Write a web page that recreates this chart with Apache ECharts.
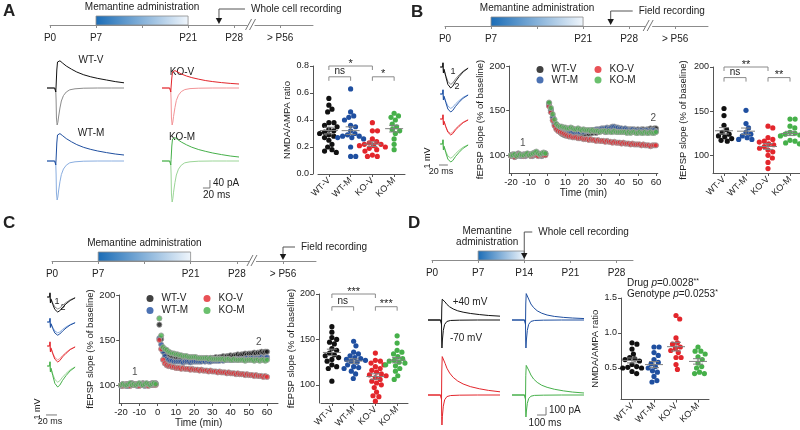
<!DOCTYPE html>
<html>
<head>
<meta charset="utf-8">
<script src="https://cdn.jsdelivr.net/npm/echarts@6/dist/echarts.min.js"></script>
<style>
  html, body { margin: 0; background: #fff; }
  #chart { width: 800px; height: 430px; }
</style>
</head>
<body>
<div id="chart"></div>
<script>
// ---- data ----
const groups = ['WT-V', 'WT-M', 'KO-V', 'KO-M'];

// timelines (postnatal days)
const timelineDays = [0, 7, 14, 21, 28, 35];
const timelineLabels = ['P0', 'P7', '', 'P21', 'P28', '> P56'];
const timelineDaysD = [0, 7, 14, 21, 28];
const timelineLabelsD = ['P0', 'P7', 'P14', 'P21', 'P28'];

// A: NMDA/AMPA ratio
const aRatioWTV = [0.56, 0.51, 0.48, 0.46, 0.38, 0.38, 0.36, 0.35, 0.33, 0.32, 0.31, 0.30, 0.29, 0.28, 0.27, 0.25, 0.22, 0.20, 0.18, 0.17, 0.16];
const aRatioWTM = [0.63, 0.46, 0.43, 0.42, 0.40, 0.36, 0.35, 0.32, 0.30, 0.29, 0.28, 0.28, 0.27, 0.27, 0.26, 0.20, 0.13, 0.13];
const aRatioKOV = [0.38, 0.32, 0.32, 0.26, 0.24, 0.23, 0.22, 0.22, 0.21, 0.21, 0.20, 0.19, 0.18, 0.17, 0.14, 0.13, 0.13];
const aRatioKOM = [0.45, 0.43, 0.42, 0.40, 0.37, 0.35, 0.33, 0.32, 0.30, 0.26, 0.22, 0.18];
const aSignif = [[0, 2, 0.80, '*'], [0, 1, 0.72, 'ns'], [2, 3, 0.72, '*']];

// B: fEPSP slope after LTP (P21-28)
const bSlopeWTV = [153, 145, 134, 129, 126, 124, 122, 121, 119, 117, 116];
const bSlopeWTM = [151, 136, 131, 126, 124, 122, 120, 118, 118];
const bSlopeKOV = [133, 131, 120, 118, 116, 115, 113, 112, 110, 108, 106, 104, 100, 97, 92, 85];
const bSlopeKOM = [141, 141, 133, 131, 126, 125, 124, 123, 122, 121, 117, 116, 114, 113];
const bSignif = [[0, 2, 200, '**'], [0, 1, 188, 'ns'], [2, 3, 188, '**']];

// C: fEPSP slope after LTP (> P56)
const cSlopeWTV = [164, 158, 152, 150, 147, 145, 140, 138, 135, 133, 132, 130, 128, 126, 122, 120, 118, 104];
const cSlopeWTM = [148, 143, 136, 134, 132, 130, 129, 128, 127, 126, 125, 122, 120, 119, 118, 115, 112, 107];
const cSlopeKOV = [135, 127, 126, 124, 122, 120, 118, 116, 114, 112, 111, 110, 108, 106, 104, 102, 100, 97, 92, 88, 87, 82];
const cSlopeKOM = [154, 146, 138, 136, 134, 131, 129, 127, 126, 125, 124, 122, 121, 118, 115, 110, 106];
const cSignif = [[0, 2, 200, '***'], [0, 1, 186, 'ns'], [2, 3, 186, '***']];

// D: NMDA/AMPA ratio at P14
const dRatioWTV = [0.86, 0.84, 0.77, 0.70, 0.65, 0.63, 0.62, 0.60, 0.55, 0.52, 0.51, 0.50, 0.50, 0.45, 0.42];
const dRatioWTM = [0.80, 0.80, 0.72, 0.68, 0.62, 0.58, 0.56, 0.52, 0.50, 0.46, 0.44, 0.38, 0.32, 0.30];
const dRatioKOV = [1.25, 1.20, 0.93, 0.86, 0.84, 0.80, 0.78, 0.75, 0.72, 0.65, 0.65, 0.55, 0.48];
const dRatioKOM = [0.80, 0.74, 0.74, 0.70, 0.66, 0.62, 0.57, 0.52, 0.50, 0.44, 0.42, 0.42];

// LTP time courses: 20 baseline minutes (-20..-1) then minutes 1..60
const courseTimes = Array.from({length: 20}, (_, i) => i - 20)
  .concat(Array.from({length: 60}, (_, i) => i + 1));
const bCourseWTV = [100, 101, 99, 100, 102, 100, 99, 101, 100, 100, 101, 99, 100, 102, 101, 100, 100, 99, 101, 102,
  158, 151, 143, 136, 131, 128, 126, 124, 123, 122, 122, 121, 122, 123, 122, 123, 122, 123, 124, 124,
  124, 125, 124, 125, 125, 126, 125, 126, 127, 127, 127, 126, 127, 128, 127, 128, 128, 129, 128, 128,
  129, 128, 129, 128, 129, 129, 128, 129, 128, 129, 128, 129, 129, 128, 129, 129, 130, 129, 130, 130];
const bCourseWTM = [99, 100, 98, 100, 101, 99, 100, 100, 99, 101, 100, 100, 99, 101, 100, 102, 101, 100, 100, 101,
  156, 150, 142, 135, 131, 129, 127, 126, 125, 125, 124, 125, 125, 126, 125, 126, 126, 126, 127, 126,
  127, 127, 127, 128, 128, 128, 129, 129, 129, 130, 130, 130, 131, 130, 131, 132, 132, 131, 131, 130,
  130, 129, 130, 129, 128, 128, 129, 128, 128, 127, 128, 128, 127, 128, 128, 127, 128, 128, 128, 127];
const bCourseKOV = [99, 100, 98, 99, 101, 100, 100, 99, 100, 101, 100, 99, 100, 101, 100, 99, 100, 101, 100, 100,
  155, 148, 139, 133, 129, 127, 126, 125, 124, 123, 122, 121, 121, 120, 120, 120, 119, 119, 119, 118,
  118, 118, 117, 118, 117, 117, 116, 117, 116, 116, 116, 115, 116, 115, 115, 114, 115, 114, 114, 114,
  113, 114, 113, 113, 113, 112, 113, 112, 112, 112, 112, 111, 112, 111, 111, 111, 110, 111, 111, 111];
const bCourseKOM = [100, 100, 101, 99, 100, 101, 100, 100, 101, 102, 100, 101, 102, 103, 104, 102, 101, 102, 103, 102,
  159, 153, 146, 140, 135, 133, 132, 132, 131, 131, 130, 130, 131, 130, 129, 129, 130, 129, 128, 129,
  128, 128, 128, 127, 128, 127, 127, 127, 126, 127, 127, 127, 126, 127, 126, 126, 127, 126, 126, 126,
  126, 126, 126, 125, 126, 125, 126, 126, 125, 125, 126, 125, 125, 126, 125, 125, 126, 125, 125, 126];
const cCourseWTV = [100, 101, 100, 99, 101, 100, 102, 101, 100, 101, 100, 101, 102, 100, 101, 100, 101, 102, 101, 102,
  167, 151, 140, 135, 132, 131, 130, 130, 129, 129, 129, 128, 129, 128, 128, 128, 129, 128, 128, 129,
  128, 129, 129, 128, 129, 129, 130, 129, 130, 130, 130, 131, 130, 131, 131, 132, 131, 132, 132, 133,
  132, 133, 133, 134, 133, 134, 134, 135, 134, 135, 135, 135, 136, 135, 136, 136, 137, 136, 137, 137];
const cCourseWTM = [99, 100, 100, 101, 99, 100, 100, 101, 100, 99, 100, 101, 100, 99, 100, 101, 100, 100, 101, 101,
  152, 145, 137, 132, 129, 128, 127, 127, 126, 126, 126, 126, 126, 125, 126, 126, 126, 125, 126, 126,
  126, 126, 126, 126, 127, 126, 127, 126, 126, 127, 127, 127, 127, 127, 128, 127, 128, 128, 128, 128,
  128, 128, 129, 128, 129, 129, 129, 129, 130, 129, 130, 130, 129, 130, 130, 130, 131, 130, 130, 131];
const cCourseKOV = [100, 99, 100, 101, 100, 99, 100, 100, 101, 100, 99, 100, 101, 100, 100, 99, 100, 101, 100, 100,
  150, 140, 128, 124, 122, 121, 121, 120, 120, 119, 119, 119, 118, 119, 118, 118, 118, 117, 118, 117,
  117, 117, 116, 117, 116, 116, 116, 115, 116, 115, 115, 115, 114, 115, 114, 114, 114, 113, 114, 113,
  113, 113, 112, 113, 112, 112, 112, 111, 112, 111, 111, 111, 110, 111, 110, 110, 110, 109, 110, 109];
const cCourseKOM = [100, 101, 100, 100, 101, 102, 100, 101, 100, 101, 102, 101, 100, 101, 102, 101, 100, 101, 102, 101,
  174, 155, 142, 140, 139, 137, 136, 135, 135, 134, 134, 133, 133, 132, 132, 132, 131, 131, 131, 131,
  131, 130, 130, 130, 130, 130, 130, 129, 130, 129, 129, 129, 129, 129, 129, 129, 128, 129, 129, 128,
  128, 129, 128, 128, 128, 128, 128, 127, 128, 128, 128, 128, 127, 128, 128, 127, 128, 128, 127, 128];
const bCourseMarks = [[-13.5, 113, '1'], [58.5, 141, '2']];
const cCourseMarks = [[-12.5, 114, '1'], [55.5, 147, '2']];

// example EPSC traces (ms, pA)
const aUpTimes = [-25, -3, 0, 1, 3, 5, 8, 12, 20, 30, 45, 60, 80, 100, 120, 145, 170, 195];
const aDownTimes = [-25, -3, 0, 1, 2, 4, 6, 8, 12, 16, 22, 30, 40, 55, 80, 120, 160, 195];
const aUpWTV = [0, 0, -20, 10, 90, 130, 140, 136, 124, 110, 94, 80, 66, 56, 48, 40, 32, 26];
const aDownWTV = [0, 0, -15, -60, -150, -185, -172, -145, -100, -65, -38, -20, -9, -4, -1, 0, 0, 0];
const aUpKOV = [0, 0, -20, 5, 50, 80, 90, 87, 80, 70, 60, 52, 44, 37, 32, 27, 23, 20];
const aDownKOV = [0, 0, -15, -60, -150, -185, -170, -142, -98, -62, -36, -18, -8, -3, -1, 0, 0, 0];
const aUpWTM = [0, 0, -20, 10, 90, 130, 140, 137, 126, 112, 96, 82, 68, 58, 50, 42, 35, 30];
const aDownWTM = [0, 0, -15, -65, -160, -195, -180, -150, -104, -68, -40, -21, -9, -4, -1, 0, 0, 0];
const aUpKOM = [0, 0, -20, 8, 75, 110, 120, 117, 107, 95, 81, 69, 57, 48, 40, 32, 25, 20];
const aDownKOM = [0, 0, -15, -65, -165, -205, -188, -156, -108, -70, -41, -21, -9, -4, -1, 0, 0, 0];
const dUpTimes = [-150, -10, 0, 3, 8, 15, 25, 40, 60, 90, 130, 180, 240, 320, 420, 520, 650];
const dDownTimes = [-150, -10, 0, 2, 5, 10, 20, 35, 60, 100, 200, 400, 650];
const dUpWTV = [0, 0, -60, 150, 260, 275, 255, 225, 195, 165, 138, 115, 98, 82, 68, 57, 48];
const dDownWTV = [0, 0, -40, -250, -350, -250, -130, -55, -18, -6, -2, 0, 0];
const dUpWTM = [0, 0, -60, 200, 330, 350, 305, 250, 200, 155, 115, 85, 62, 45, 33, 25, 18];
const dDownWTM = [0, 0, -40, -250, -350, -250, -130, -55, -18, -6, -2, 0, 0];
const dUpKOV = [0, 0, -60, 300, 480, 500, 455, 395, 335, 275, 220, 175, 138, 105, 78, 58, 40];
const dDownKOV = [0, 0, -40, -270, -375, -265, -140, -60, -20, -7, -2, 0, 0];
const dUpKOM = [0, 0, -60, 240, 370, 390, 350, 300, 250, 200, 158, 122, 96, 72, 52, 37, 25];
const dDownKOM = [0, 0, -40, -200, -275, -200, -105, -45, -15, -5, -2, 0, 0];

// example fEPSP traces (ms, mV): 1 = baseline, 2 = after LTP
const fTimes = [-4, -0.5, 0, 0.6, 1.5, 4, 7, 11, 14, 18, 23, 29, 36];
const bF1WTV = [0, 0, 0.35, -0.5, -0.2, -0.7, -1.2, -1.45, -1.33, -1.0, -0.66, -0.33, -0.08];
const bF2WTV = [0, 0, 0.35, -0.5, -0.2, -0.8, -1.45, -1.75, -1.6, -1.2, -0.8, -0.4, -0.1];
const bF1WTM = [0, 0, 0.35, -0.5, -0.2, -0.6, -1.0, -1.2, -1.1, -0.82, -0.55, -0.27, -0.07];
const bF2WTM = [0, 0, 0.35, -0.5, -0.2, -0.7, -1.25, -1.5, -1.37, -1.03, -0.69, -0.34, -0.09];
const bF1KOV = [0, 0, 0.35, -0.5, -0.2, -0.62, -1.02, -1.2, -1.1, -0.8, -0.52, -0.25, -0.06];
const bF2KOV = [0, 0, 0.35, -0.5, -0.2, -0.65, -1.1, -1.33, -1.22, -0.91, -0.61, -0.3, -0.08];
const bF1KOM = [0, 0, 0.35, -0.5, -0.2, -0.6, -1.0, -1.18, -1.08, -0.8, -0.53, -0.26, -0.07];
const bF2KOM = [0, 0, 0.35, -0.5, -0.2, -0.72, -1.26, -1.5, -1.38, -1.04, -0.7, -0.35, -0.09];
const cF1WTV = [0, 0, 0.3, -0.45, -0.15, -0.5, -0.83, -1.0, -0.92, -0.69, -0.46, -0.23, -0.06];
const cF2WTV = [0, 0, 0.35, -0.5, -0.2, -0.62, -1.04, -1.25, -1.15, -0.86, -0.57, -0.29, -0.07];
const cF1WTM = [0, 0, 0.3, -0.45, -0.15, -0.45, -0.75, -0.9, -0.83, -0.62, -0.41, -0.21, -0.05];
const cF2WTM = [0, 0, 0.3, -0.45, -0.15, -0.55, -0.92, -1.1, -1.0, -0.76, -0.5, -0.25, -0.06];
const cF1KOV = [0, 0, 0.3, -0.45, -0.15, -0.57, -0.96, -1.15, -1.06, -0.79, -0.53, -0.26, -0.07];
const cF2KOV = [0, 0, 0.35, -0.5, -0.2, -0.65, -1.1, -1.33, -1.22, -0.91, -0.61, -0.3, -0.08];
const cF1KOM = [0, 0, 0.35, -0.5, -0.2, -0.67, -1.12, -1.35, -1.24, -0.93, -0.62, -0.31, -0.08];
const cF2KOM = [0, 0, 0.35, -0.5, -0.2, -0.8, -1.45, -1.75, -1.6, -1.2, -0.8, -0.4, -0.1];

// ---- styles ----
const FONT = '"Liberation Sans", Arial, sans-serif';
const INK = '#222';
const AXIS = '#555';
const groupColor = {'WT-V': '#111111', 'WT-M': '#1f4fa0', 'KO-V': '#e3262c', 'KO-M': '#46b04a'};
const groupLight = {'WT-V': '#8c8c8c', 'WT-M': '#8aaee0', 'KO-V': '#f39497', 'KO-M': '#9bd597'};

const grid = [];
const xAxis = [];
const yAxis = [];
const series = [];
const legend = [];
const graphic = [];

const hiddenAxis = (min, max) => ({type: 'value', min, max, show: false});
const axisLine = {show: true, onZero: false, lineStyle: {color: AXIS, width: 1}};
const labelStyle = (size) => ({fontSize: size, fontFamily: FONT, color: INK});

const addGrid = (rect, x, y) => {
  grid.push({...rect, containLabel: false, outerBoundsMode: 'none'});
  const index = grid.length - 1;
  xAxis.push({gridIndex: index, ...x});
  yAxis.push({gridIndex: index, ...y});
  return index;
};

const onGrid = (index, item) => series.push({
  xAxisIndex: index, yAxisIndex: index, silent: true, animation: false, ...item,
});

const text = (x, y, value, opts = {}) => {
  const align = opts.align || 'center';
  const valign = opts.valign || 'middle';
  graphic.push({
    type: 'text', x, y, silent: true, rotation: opts.rotation || 0,
    style: {
      text: value, fontFamily: FONT, fontSize: opts.size || 10, fontWeight: opts.weight || 'normal',
      fill: INK, align, textAlign: align, verticalAlign: valign, textVerticalAlign: valign,
      rich: opts.rich,
    },
  });
};

const addTraces = (rect, xRange, yRange, traces) => {
  const index = addGrid(rect, hiddenAxis(...xRange), hiddenAxis(...yRange));
  traces.forEach(([times, values, color]) => onGrid(index, {
    type: 'line', data: times.map((t, k) => [t, values[k]]), symbol: 'none', clip: false,
    lineStyle: {color, width: 1},
  }));
  return index;
};

// simple beeswarm: horizontal offsets (px) so dots of spacing d stay apart
const swarm = (ys, d) => {
  const placed = [];
  const out = new Array(ys.length);
  ys.map((y, i) => i).sort((a, b) => ys[a] - ys[b]).forEach((i) => {
    const y = ys[i];
    const blocked = [];
    placed.forEach((p) => {
      const dy = Math.abs(p.y - y);
      if (dy < d) {
        const w = Math.sqrt(d * d - dy * dy);
        blocked.push([p.x - w, p.x + w]);
      }
    });
    const candidates = [0];
    blocked.forEach(([a, b]) => candidates.push(a, b));
    candidates.sort((a, b) => Math.abs(a) - Math.abs(b) || b - a);
    const x = candidates.find((c) => blocked.every(([a, b]) => c <= a + 1e-6 || c >= b - 1e-6));
    out[i] = x;
    placed.push({x, y});
  });
  return out;
};

const addDotPlot = (rect, cfg, values, signif) => {
  const index = addGrid(rect, {
    type: 'category', data: groups, axisLine,
    axisTick: {show: true, alignWithLabel: true, length: 3, lineStyle: {color: AXIS}},
    axisLabel: {...labelStyle(9), rotate: 45, margin: 5, interval: 0},
    splitLine: {show: false},
  }, {
    type: 'value', min: cfg.min, max: cfg.max, offset: cfg.offset || 0,
    name: cfg.name, nameLocation: 'middle', nameGap: cfg.nameGap, nameTextStyle: labelStyle(9.5),
    axisLine,
    axisTick: {show: true, length: 3, lineStyle: {color: AXIS}, customValues: cfg.ticks},
    axisLabel: {
      ...labelStyle(9), margin: 4, customValues: cfg.ticks, hideOverlap: false,
      formatter: (v) => Number(v).toFixed(cfg.decimals),
    },
    splitLine: {show: false},
  });
  values.forEach((vals, gi) => {
    let offsets = null;
    onGrid(index, {
      type: 'custom', data: vals.map((v) => [gi, v]), encode: {x: 0, y: 1}, z: 3,
      renderItem: (params, api) => {
        if (params.dataIndex === 0 || !offsets) {
          offsets = swarm(vals.map((v) => api.coord([gi, v])[1]), 5.1);
        }
        const [cx, cy] = api.coord([gi, api.value(1)]);
        return {
          type: 'circle', shape: {cx: cx + offsets[params.dataIndex], cy, r: 2.6},
          style: {fill: groupColor[groups[gi]]},
        };
      },
    });
  });
  const stats = values.map((vals, gi) => {
    const n = vals.length;
    const mean = vals.reduce((s, v) => s + v, 0) / n;
    const sd = Math.sqrt(vals.reduce((s, v) => s + (v - mean) ** 2, 0) / (n - 1));
    return [gi, mean, sd / Math.sqrt(n)];
  });
  onGrid(index, {
    type: 'custom', data: stats, encode: {x: 0, y: 1}, z: 4,
    renderItem: (params, api) => {
      const gi = api.value(0);
      const m = api.value(1);
      const e = api.value(2);
      const [x, ym] = api.coord([gi, m]);
      const yl = api.coord([gi, m - e])[1];
      const yh = api.coord([gi, m + e])[1];
      const s = {stroke: '#808080', lineWidth: 1};
      return {type: 'group', children: [
        {type: 'line', shape: {x1: x - 9, y1: ym, x2: x + 9, y2: ym}, style: s},
        {type: 'line', shape: {x1: x - 5, y1: yl, x2: x + 5, y2: yl}, style: s},
        {type: 'line', shape: {x1: x - 5, y1: yh, x2: x + 5, y2: yh}, style: s},
        {type: 'line', shape: {x1: x, y1: yl, x2: x, y2: yh}, style: s},
      ]};
    },
  });
  if (signif) {
    onGrid(index, {
      type: 'custom', data: signif.map((b) => [b[0], b[2], b[1]]), encode: {x: [0, 2], y: 1}, z: 5,
      renderItem: (params, api) => {
        const b = signif[params.dataIndex];
        const p = api.coord([b[0], b[2]]);
        const q = api.coord([b[1], b[2]]);
        const star = b[3] !== 'ns';
        return {type: 'group', children: [
          {type: 'polyline', shape: {points: [[p[0], p[1] + 4], [p[0], p[1]], [q[0], q[1]], [q[0], q[1] + 4]]},
            style: {stroke: '#8a8a8a', lineWidth: 1, fill: null}},
          {type: 'text', x: (p[0] + q[0]) / 2, y: star ? p[1] + 3 : p[1] - 0.5,
            style: {text: b[3], fontFamily: FONT, fontSize: star ? 11 : 10, fill: INK,
              align: 'center', textAlign: 'center', verticalAlign: 'bottom', textVerticalAlign: 'bottom'}},
        ]};
      },
    });
  }
  return index;
};

const addCourse = (rect, cfg, courses, marks) => {
  const index = addGrid(rect, {
    type: 'value', min: cfg.xMin, max: cfg.xMax, name: 'Time (min)', nameLocation: 'middle',
    nameGap: cfg.xNameGap, nameTextStyle: labelStyle(10), axisLine,
    axisTick: {show: true, length: 3, lineStyle: {color: AXIS}, customValues: cfg.xTicks},
    axisLabel: {...labelStyle(9.5), margin: 4, customValues: cfg.xTicks, hideOverlap: false},
    splitLine: {show: false},
  }, {
    type: 'value', min: 80, max: 200, name: 'fEPSP slope (% of baseline)', nameLocation: 'middle',
    nameGap: cfg.yNameGap, nameTextStyle: labelStyle(9.5), axisLine,
    axisTick: {show: true, length: 3, lineStyle: {color: AXIS}, customValues: [100, 150, 200]},
    axisLabel: {...labelStyle(9.5), margin: 4, customValues: [100, 150, 200], hideOverlap: false},
    splitLine: {show: false},
  });
  courses.forEach((values, gi) => onGrid(index, {
    type: 'scatter', name: groups[gi], symbolSize: 5.2,
    data: courseTimes.map((t, k) => [t, values[k]]),
    itemStyle: {color: groupColor[groups[gi]], borderColor: '#a0a0a0', borderWidth: 1},
  }));
  onGrid(index, {
    type: 'scatter', symbolSize: 1, data: marks.map((m) => ({value: [m[0], m[1]], name: m[2]})),
    itemStyle: {color: 'transparent'},
    label: {show: true, position: 'inside', formatter: '{b}', ...labelStyle(10)},
  });
  return index;
};

const addLegend = (name, left, top) => legend.push({
  data: [{name, icon: 'circle'}], left, top, padding: 0, itemWidth: 7, itemHeight: 7, itemGap: 0,
  selectedMode: false, itemStyle: {borderWidth: 0},
  textStyle: {...labelStyle(10), padding: [0, 0, 0, 3]},
});

const addTimeline = (cfg) => {
  const index = addGrid({left: cfg.left, top: cfg.top, width: cfg.width, height: 9}, {
    type: 'value', min: 0, max: cfg.maxDay,
    axisLine: {show: true, onZero: false, lineStyle: {color: '#8c8c8c', width: 1}},
    axisTick: {show: true, length: 3, lineStyle: {color: '#8c8c8c'}, customValues: cfg.days},
    axisLabel: {
      ...labelStyle(10), margin: 8, customValues: cfg.days, hideOverlap: false,
      formatter: (v) => cfg.labels[cfg.days.indexOf(v)],
    },
    splitLine: {show: false},
  }, hiddenAxis(0, 1));
  onGrid(index, {
    type: 'custom', data: [cfg.dose], encode: {x: [0, 1]}, z: 2,
    renderItem: (params, api) => {
      const a = api.coord([api.value(0), 1]);
      const b = api.coord([api.value(1), 0]);
      return {type: 'group', children: [
        {type: 'rect', shape: {x: a[0], y: a[1], width: b[0] - a[0], height: b[1] - a[1]},
          style: {
            fill: new echarts.graphic.LinearGradient(0, 0, 1, 0, [
              {offset: 0, color: '#1a6cb6'}, {offset: 1, color: '#f0f6fc'}]),
            stroke: '#8c8c8c', lineWidth: 0.8,
          }},
        {type: 'text', x: (a[0] + b[0]) / 2 + (cfg.doseDx || 0), y: a[1] - 3,
          style: {text: cfg.doseLabel, fontFamily: FONT, fontSize: 10, fill: INK, lineHeight: 11,
            align: 'center', textAlign: 'center', verticalAlign: 'bottom', textVerticalAlign: 'bottom'}},
      ]};
    },
  });
  onGrid(index, {
    type: 'custom', data: [[cfg.recDay, 0]], encode: {x: 0, y: 1}, z: 3,
    renderItem: (params, api) => {
      const [x, y] = api.coord([api.value(0), 0]);
      const top = y - cfg.rise;
      return {type: 'group', children: [
        {type: 'polyline', shape: {points: [[x + cfg.hLen, top], [x, top], [x, y - 6]]},
          style: {stroke: '#555', lineWidth: 1, fill: null}},
        {type: 'polygon', shape: {points: [[x - 3.2, y - 7], [x + 3.2, y - 7], [x, y - 1]]},
          style: {fill: '#1a1a1a'}},
        {type: 'text', x: x + cfg.hLen + 6, y: top,
          style: {text: cfg.recLabel, fontFamily: FONT, fontSize: 10, fill: INK,
            align: 'left', textAlign: 'left', verticalAlign: 'middle', textVerticalAlign: 'middle'}},
      ]};
    },
  });
  if (cfg.breakDay) {
    onGrid(index, {
      type: 'custom', data: [[cfg.breakDay, 0]], encode: {x: 0, y: 1}, z: 3,
      renderItem: (params, api) => {
        const [x, y] = api.coord([api.value(0), 0]);
        const s = {stroke: '#777', lineWidth: 1};
        return {type: 'group', children: [
          {type: 'rect', shape: {x: x - 3, y: y - 1, width: 7, height: 2}, style: {fill: '#fff'}},
          {type: 'line', shape: {x1: x - 5, y1: y + 5, x2: x + 1, y2: y - 6}, style: s},
          {type: 'line', shape: {x1: x - 1, y1: y + 5, x2: x + 5, y2: y - 6}, style: s},
        ]};
      },
    });
  }
};

// ---- panel A ----
addTimeline({left: 50, top: 16, width: 263, maxDay: 40, days: timelineDays, labels: timelineLabels,
  dose: [7, 21], doseLabel: 'Memantine administration', recDay: 25.7, rise: 16, hLen: 26,
  recLabel: 'Whole cell recording', breakDay: 30.5});
const aX = [-25, 195];
const aY = [-215, 165];
addTraces({left: 47, top: 55, width: 77, height: 76}, aX, aY,
  [[aDownTimes, aDownWTV, groupLight['WT-V']], [aUpTimes, aUpWTV, groupColor['WT-V']]]);
addTraces({left: 162, top: 55, width: 77, height: 76}, aX, aY,
  [[aDownTimes, aDownKOV, groupLight['KO-V']], [aUpTimes, aUpKOV, groupColor['KO-V']]]);
addTraces({left: 47, top: 128, width: 77, height: 76}, aX, aY,
  [[aDownTimes, aDownWTM, groupLight['WT-M']], [aUpTimes, aUpWTM, groupColor['WT-M']]]);
addTraces({left: 162, top: 128, width: 77, height: 76}, aX, aY,
  [[aDownTimes, aDownKOM, groupLight['KO-M']], [aUpTimes, aUpKOM, groupColor['KO-M']],
    [[92, 112, 112], [-135, -135, -95], '#777']]);
addDotPlot({left: 318, top: 66, width: 87, height: 108},
  {min: 0, max: 0.8, ticks: [0, 0.2, 0.4, 0.6, 0.8], decimals: 1, offset: 5,
    name: 'NMDA/AMPA ratio', nameGap: 19},
  [aRatioWTV, aRatioWTM, aRatioKOV, aRatioKOM], aSignif);

// ---- panel B ----
addTimeline({left: 445, top: 17, width: 263, maxDay: 40, days: timelineDays, labels: timelineLabels,
  dose: [7, 21], doseLabel: 'Memantine administration', recDay: 25.2, rise: 15, hLen: 22,
  recLabel: 'Field recording', breakDay: 30.9});
const fX = [-5, 38];
const fY = [-2.2, 0.6];
addTraces({left: 439.5, top: 59.8, width: 30, height: 33.6}, fX, fY,
  [[fTimes, bF1WTV, groupLight['WT-V']], [fTimes, bF2WTV, groupColor['WT-V']]]);
addTraces({left: 439.5, top: 86.8, width: 30, height: 33.6}, fX, fY,
  [[fTimes, bF1WTM, groupLight['WT-M']], [fTimes, bF2WTM, groupColor['WT-M']]]);
addTraces({left: 439.5, top: 111.8, width: 30, height: 33.6}, fX, fY,
  [[fTimes, bF1KOV, groupLight['KO-V']], [fTimes, bF2KOV, groupColor['KO-V']]]);
addTraces({left: 439.5, top: 136.8, width: 30, height: 33.6}, fX, fY,
  [[fTimes, bF1KOM, groupLight['KO-M']], [fTimes, bF2KOM, groupColor['KO-M']],
    [[-13, -13, 7], [-0.67, -1.75, -1.75], '#777']]);
addCourse({left: 509.2, top: 66, width: 148.6, height: 107},
  {xMin: -21, xMax: 61, xTicks: [-20, -10, 0, 10, 20, 30, 40, 50, 60], xNameGap: 14, yNameGap: 19},
  [bCourseWTV, bCourseWTM, bCourseKOV, bCourseKOM], bCourseMarks);
addLegend('WT-V', 536.5, 64.5);
addLegend('KO-V', 594.5, 64.5);
addLegend('WT-M', 536.5, 75);
addLegend('KO-M', 594.5, 75);
addDotPlot({left: 713, top: 67, width: 88, height: 106},
  {min: 80, max: 200, ticks: [100, 150, 200], decimals: 0, name: 'fEPSP slope (% of baseline)', nameGap: 25},
  [bSlopeWTV, bSlopeWTM, bSlopeKOV, bSlopeKOM], bSignif);

// ---- panel C ----
addTimeline({left: 52, top: 252, width: 264, maxDay: 40, days: timelineDays, labels: timelineLabels,
  dose: [7, 21], doseLabel: 'Memantine administration', recDay: 35, rise: 14, hLen: 12,
  recLabel: 'Field recording', breakDay: 30.3});
addTraces({left: 46.5, top: 289.8, width: 30, height: 33.6}, fX, fY,
  [[fTimes, cF1WTV, groupLight['WT-V']], [fTimes, cF2WTV, groupColor['WT-V']]]);
addTraces({left: 46.5, top: 314.8, width: 30, height: 33.6}, fX, fY,
  [[fTimes, cF1WTM, groupLight['WT-M']], [fTimes, cF2WTM, groupColor['WT-M']]]);
addTraces({left: 46.5, top: 338.8, width: 30, height: 33.6}, fX, fY,
  [[fTimes, cF1KOV, groupLight['KO-V']], [fTimes, cF2KOV, groupColor['KO-V']]]);
addTraces({left: 46.5, top: 358.8, width: 30, height: 33.6}, fX, fY,
  [[fTimes, cF1KOM, groupLight['KO-M']], [fTimes, cF2KOM, groupColor['KO-M']],
    [[-10, -10, 10], [-3.08, -4.08, -4.08], '#777']]);
addCourse({left: 119.2, top: 295, width: 158.8, height: 108},
  {xMin: -21, xMax: 66, xTicks: [-20, -10, 0, 10, 20, 30, 40, 50, 60], xNameGap: 15, yNameGap: 19},
  [cCourseWTV, cCourseWTM, cCourseKOV, cCourseKOM], cCourseMarks);
addLegend('WT-V', 146.5, 293.5);
addLegend('KO-V', 203.5, 293.5);
addLegend('WT-M', 146.5, 305.5);
addLegend('KO-M', 203.5, 305.5);
addDotPlot({left: 321, top: 294, width: 87, height: 109},
  {min: 80, max: 200, ticks: [100, 150, 200], decimals: 0, offset: 2,
    name: 'fEPSP slope (% of baseline)', nameGap: 14},
  [cSlopeWTV, cSlopeWTM, cSlopeKOV, cSlopeKOM], cSignif);

// ---- panel D ----
addTimeline({left: 432, top: 251, width: 201, maxDay: 30.5, days: timelineDaysD, labels: timelineLabelsD,
  dose: [7, 14], doseLabel: 'Memantine\nadministration', doseDx: -14, recDay: 14, rise: 28, hLen: 8,
  recLabel: 'Whole cell recording'});
const dX = [-150, 650];
const dY = [-450, 550];
addTraces({left: 428, top: 276, width: 72, height: 80}, dX, dY,
  [[dDownTimes, dDownWTV, groupColor['WT-V']], [dUpTimes, dUpWTV, groupColor['WT-V']]]);
addTraces({left: 512, top: 276, width: 72, height: 80}, dX, dY,
  [[dDownTimes, dDownWTM, groupColor['WT-M']], [dUpTimes, dUpWTM, groupColor['WT-M']]]);
addTraces({left: 428, top: 351, width: 72, height: 80}, dX, dY,
  [[dDownTimes, dDownKOV, groupColor['KO-V']], [dUpTimes, dUpKOV, groupColor['KO-V']]]);
addTraces({left: 512, top: 351, width: 72, height: 80}, dX, dY,
  [[dDownTimes, dDownKOM, groupColor['KO-M']], [dUpTimes, dUpKOM, groupColor['KO-M']],
    [[128, 228, 228], [-250, -250, -150], '#777']]);
addDotPlot({left: 621, top: 298, width: 88, height: 101.5},
  {min: 0.05, max: 1.5, ticks: [0.5, 1.0, 1.5], decimals: 1, name: 'NMDA/AMPA ratio', nameGap: 20},
  [dRatioWTV, dRatioWTM, dRatioKOV, dRatioKOM], null);

// ---- annotation text ----
text(3, 3, 'A', {size: 17, weight: 'bold', align: 'left', valign: 'top'});
text(411, 4, 'B', {size: 17, weight: 'bold', align: 'left', valign: 'top'});
text(3, 215, 'C', {size: 17, weight: 'bold', align: 'left', valign: 'top'});
text(408, 215, 'D', {size: 17, weight: 'bold', align: 'left', valign: 'top'});
text(91, 60, 'WT-V');
text(182, 72, 'KO-V');
text(91, 133, 'WT-M');
text(182, 137, 'KO-M');
text(213, 183, '40 pA', {align: 'left'});
text(203, 195, '20 ms', {align: 'left'});
text(453, 72, '1', {size: 9});
text(457, 87, '2', {size: 9});
text(428, 158, '1 mV', {size: 9, rotation: Math.PI / 2});
text(441, 172, '20 ms', {size: 9});
text(57, 302, '1', {size: 9});
text(63, 308, '2', {size: 9});
text(38, 409, '1 mV', {size: 9, rotation: Math.PI / 2});
text(50, 422, '20 ms', {size: 9});
text(470, 302, '+40 mV');
text(466, 338, '-70 mV');
text(549, 410, '100 pA', {align: 'left'});
text(545, 423, '100 ms');
const pRich = {
  n: {fontFamily: FONT, fontSize: 10, fill: INK},
  i: {fontFamily: FONT, fontSize: 10, fontStyle: 'italic', fill: INK},
  s: {fontFamily: FONT, fontSize: 7, fill: INK, verticalAlign: 'top'},
};
text(627, 283, '{n|Drug }{i|p}{n|=0.0028}{s|**}', {align: 'left', rich: pRich});
text(627, 294, '{n|Genotype }{i|p}{n|=0.0253}{s|*}', {align: 'left', rich: pRich});

const chart = echarts.init(document.getElementById('chart'), null, {renderer: 'canvas'});
chart.setOption({
  animation: false,
  backgroundColor: '#fff',
  textStyle: {fontFamily: FONT},
  tooltip: {show: false},
  grid, xAxis, yAxis, series, legend, graphic,
});
</script>
</body>
</html>
